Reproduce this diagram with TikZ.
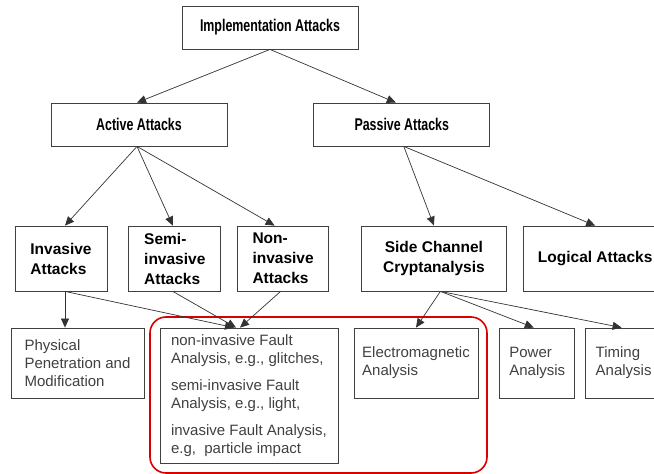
\documentclass[tikz,border=0pt]{standalone}
\usepackage{fontspec}
\setmainfont{Liberation Sans}
\newfontfamily\narrowfont{Liberation Sans}[FakeStretch=0.73]
\usetikzlibrary{arrows.meta,positioning}

\begin{document}
\begin{tikzpicture}[x=1pt,y=-1pt,
  box/.style={draw=black!75,line width=0.8pt,inner sep=2pt,align=center},
  toplevel/.style={box,minimum width=176pt,minimum height=43pt,font=\narrowfont\bfseries\fontsize{17}{20}\selectfont},
  midlevel/.style={box,minimum height=65pt,font=\bfseries\fontsize{15.5}{20}\selectfont},
  leaf/.style={box,minimum height=70pt,align=left,text=black!75,font=\fontsize{15}{18}\selectfont},
  link/.style={-{Triangle[length=9pt,width=8pt]},draw=black!80,line width=0.7pt}]
      \useasboundingbox (0,0) rectangle (654,474);
      \clip (0,0) rectangle (654,474);
      % top two levels
      \node[toplevel] (impl) at (270,27.5) {Implementation Attacks};
      \node[toplevel] (active) at (139,124.5) {Active Attacks};
      \node[toplevel,right=86pt of active] (passive) {Passive Attacks};
      % attack classes
      \node[midlevel,minimum width=92pt,align=left] (inv) at (61,258.5) {Invasive\\Attacks};
      \node[midlevel,minimum width=92pt,align=left,right=21pt of inv] (semi) {Semi-\\invasive\\Attacks};
      \node[midlevel,minimum width=91pt,align=left,right=16pt of semi] (noninv) {Non-\\invasive\\Attacks};
      \node[midlevel,minimum width=145pt,right=32pt of noninv] (side) {Side Channel\\Cryptanalysis};
      \node[midlevel,minimum width=144pt,right=16pt of side] (logical) {Logical Attacks};
      % concrete attacks
      \node[leaf,minimum width=133pt] (phys) at (77.5,363) {Physical\\Penetration and\\Modification};
      \node[leaf,minimum width=178pt,minimum height=135pt] (fault) at (249,395.5) {non-invasive Fault\\Analysis, e.g., glitches,\\[9pt]semi-invasive Fault\\Analysis, e.g., light,\\[9pt]invasive Fault Analysis,\\e.g,\ \ particle impact};
      \node[leaf,minimum width=124pt] (em) at (416,363) {Electromagnetic\\Analysis};
      \node[leaf,minimum width=75pt,right=21pt of em] (power) {Power\\Analysis};
      \node[leaf,minimum width=76pt,right=10pt of power] (timing) {Timing\\Analysis};
      \draw[draw=red!85!black,line width=1.6pt,rounded corners=16pt] (150,317) rectangle (487,473);
      % connectors
      \draw[link] (impl.south) -- ([xshift=-2pt]active.north);
      \draw[link] (impl.south) -- ([xshift=-6pt]passive.north);
      \draw[link] ([xshift=-2pt]active.south) -- ([xshift=4pt]inv.north);
      \draw[link] ([xshift=-2pt]active.south) -- ([xshift=-2pt]semi.north);
      \draw[link] ([xshift=-2pt]active.south) -- ([xshift=-8.5pt]noninv.north);
      \draw[link] ([xshift=2pt]passive.south) -- (side.north);
      \draw[link] ([xshift=2pt]passive.south) -- (logical.north);
      \draw[link] ([xshift=4pt]inv.south) -- ([xshift=4pt]inv.south |- phys.north);
      \draw[link] ([xshift=4pt]inv.south) -- ([xshift=-15pt]fault.north);
      \draw[link] ([xshift=-2pt]semi.south) -- ([xshift=-13pt]fault.north);
      \draw[link] ([xshift=-2.5pt]noninv.south) -- ([xshift=-9pt]fault.north);
      \draw[link] ([xshift=6.5pt]side.south) -- (em.north);
      \draw[link] ([xshift=6.5pt]side.south) -- ([xshift=-3.5pt]power.north);
      \draw[link] ([xshift=6.5pt]side.south) -- ([xshift=-2pt]timing.north);
    \end{tikzpicture}
\end{document}
